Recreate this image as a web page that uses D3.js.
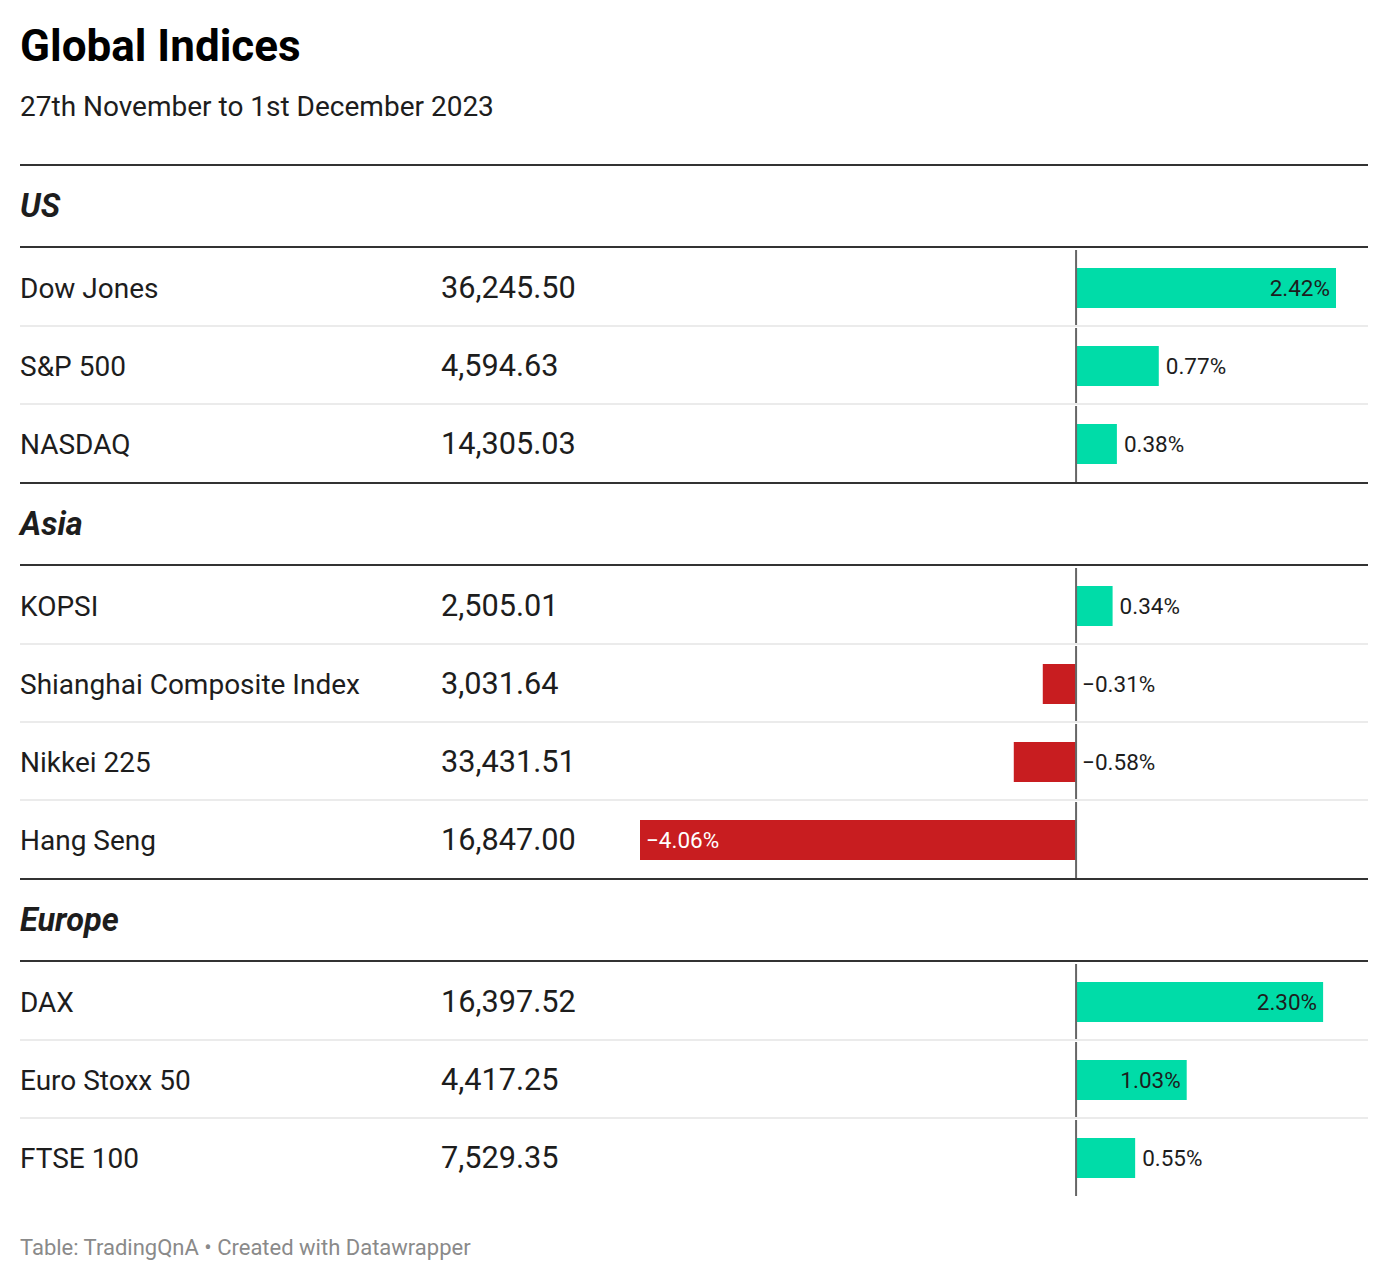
<!DOCTYPE html>
<html>
<head>
<meta charset="utf-8">
<script src="https://cdn.jsdelivr.net/npm/d3@7"></script>
<style>
  body { margin: 0; background: #fff; }
  svg { display: block; font-family: Roboto, "Noto Sans", sans-serif; }
</style>
</head>
<body>
<div id="chart"></div>
<script>
const groups = ["US", "Asia", "Europe"];
const names = ["Dow Jones", "S&P 500", "NASDAQ",
  "KOPSI", "Shianghai Composite Index", "Nikkei 225", "Hang Seng",
  "DAX", "Euro Stoxx 50", "FTSE 100"];
const groupOf = ["US", "US", "US", "Asia", "Asia", "Asia", "Asia", "Europe", "Europe", "Europe"];
const levels = [36245.50, 4594.63, 14305.03, 2505.01, 3031.64, 33431.51, 16847.00, 16397.52, 4417.25, 7529.35];
const changes = [2.42, 0.77, 0.38, 0.34, -0.31, -0.58, -4.06, 2.30, 1.03, 0.55];

const width = 1388, height = 1282;
const left = 20, right = 1368;
const headH = 83, rowH = 78, barH = 40;

const svg = d3.select("#chart").append("svg")
  .attr("width", width)
  .attr("height", height)
  .attr("viewBox", [0, 0, width, height]);

svg.append("text")
  .attr("x", left).attr("y", 61)
  .attr("font-size", 44).attr("font-weight", 700).attr("fill", "#000")
  .text("Global Indices");

svg.append("text")
  .attr("x", left).attr("y", 116)
  .attr("font-size", 28).attr("fill", "#1d1d1d")
  .text("27th November to 1st December 2023");

const x = d3.scaleLinear()
  .domain([d3.min(changes), d3.max(changes)])
  .range([640, 1336]);

const fmtLevel = d3.format(",.2f");
const fmtPct = v => d3.format(".2f")(v) + "%";

const rows = names.map((n, i) => ({ name: n, group: groupOf[i], level: levels[i], change: changes[i] }));

let groupTop = 165;
groups.forEach(g => {
  const gRows = rows.filter(r => r.group === g);

  svg.append("line")
    .attr("x1", left).attr("x2", right)
    .attr("y1", groupTop).attr("y2", groupTop)
    .attr("stroke", "#333").attr("stroke-width", 2);

  svg.append("text")
    .attr("x", left).attr("y", groupTop + 52)
    .attr("font-size", 32.5).attr("font-weight", 700).attr("font-style", "italic")
    .attr("fill", "#1d1d1d")
    .text(g);

  const rowTop = groupTop + headH;
  svg.append("line")
    .attr("x1", left).attr("x2", right)
    .attr("y1", rowTop - 1).attr("y2", rowTop - 1)
    .attr("stroke", "#333").attr("stroke-width", 2);

  const y = d3.scaleBand()
    .domain(gRows.map(r => r.name))
    .range([rowTop, rowTop + rowH * gRows.length]);

  const row = svg.append("g").selectAll("g")
    .data(gRows)
    .join("g")
      .attr("transform", d => `translate(0,${y(d.name)})`);

  // light separators between rows
  row.filter((d, i) => i > 0).append("line")
    .attr("x1", left).attr("x2", right)
    .attr("y1", 0).attr("y2", 0)
    .attr("stroke", "#ebebeb").attr("stroke-width", 2);

  row.append("text")
    .attr("x", left).attr("y", 50)
    .attr("font-size", 28).attr("fill", "#1d1d1d")
    .text(d => d.name);

  row.append("text")
    .attr("x", 441).attr("y", 50)
    .attr("font-size", 30.7).attr("fill", "#1d1d1d")
    .text(d => fmtLevel(d.level));

  const by = (rowH - barH) / 2 + 1;
  row.append("rect")
    .attr("x", d => Math.min(x(0), x(d.change)))
    .attr("y", by)
    .attr("width", d => Math.abs(x(d.change) - x(0)))
    .attr("height", barH)
    .attr("fill", d => d.change >= 0 ? "#00dca8" : "#c81d20");

  // zero line
  row.append("line")
    .attr("x1", x(0)).attr("x2", x(0))
    .attr("y1", 2).attr("y2", rowH)
    .attr("stroke", "#666").attr("stroke-width", 2);

  row.append("text")
    .attr("font-size", 22.5)
    .attr("y", by + barH / 2 + 8)
    .text(d => fmtPct(d.change))
    .each(function(d) {
      const t = d3.select(this);
      const tw = this.getComputedTextLength();
      const bw = Math.abs(x(d.change) - x(0));
      const inside = bw - tw > 30;
      if (d.change >= 0) {
        if (inside) t.attr("x", x(d.change) - 6).attr("text-anchor", "end").attr("fill", "#1d1d1d");
        else t.attr("x", x(d.change) + 7).attr("fill", "#1d1d1d");
      } else {
        if (inside) t.attr("x", x(d.change) + 6).attr("fill", "#fff");
        else t.attr("x", x(0) + 6).attr("fill", "#1d1d1d");
      }
    });

  groupTop = rowTop + rowH * gRows.length + 1;
});

svg.append("text")
  .attr("x", left).attr("y", 1255)
  .attr("font-size", 22).attr("fill", "#8a8a8a")
  .text("Table: TradingQnA • Created with Datawrapper");
</script>
</body>
</html>
